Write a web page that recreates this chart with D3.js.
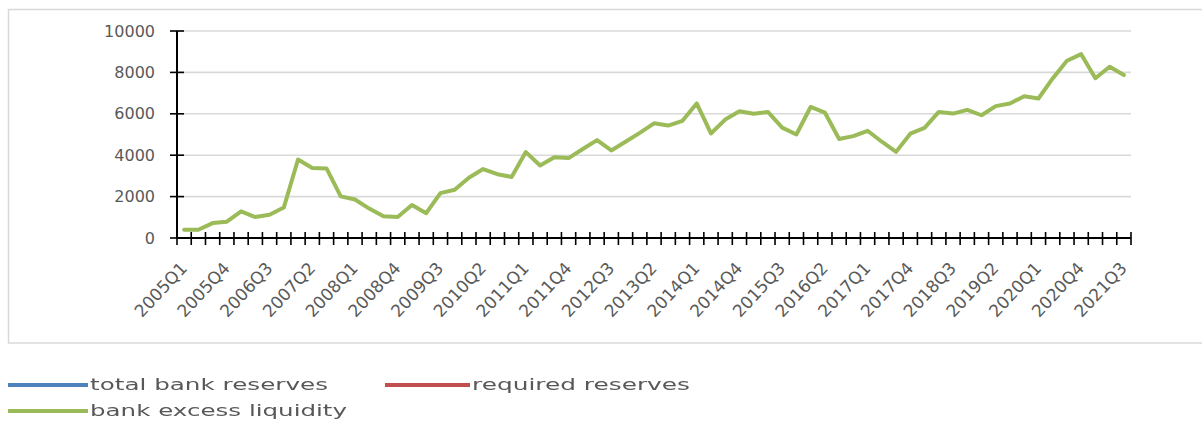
<!DOCTYPE html>
<html>
<head>
<meta charset="utf-8">
<script src="https://cdn.jsdelivr.net/npm/d3@7/dist/d3.min.js"></script>
<style>
  html, body { margin: 0; padding: 0; background: #ffffff; }
  svg { display: block; }
  text { font-family: "DejaVu Sans", sans-serif; fill: #595959; }
</style>
</head>
<body>
<svg id="chart" width="1202" height="421"></svg>
<script>
// Quarterly observations, 2005Q1 – 2021Q3
const quarters = [
  "2005Q1","2005Q2","2005Q3","2005Q4","2006Q1","2006Q2","2006Q3","2006Q4",
  "2007Q1","2007Q2","2007Q3","2007Q4","2008Q1","2008Q2","2008Q3","2008Q4",
  "2009Q1","2009Q2","2009Q3","2009Q4","2010Q1","2010Q2","2010Q3","2010Q4",
  "2011Q1","2011Q2","2011Q3","2011Q4","2012Q1","2012Q2","2012Q3","2012Q4",
  "2013Q1","2013Q2","2013Q3","2013Q4","2014Q1","2014Q2","2014Q3","2014Q4",
  "2015Q1","2015Q2","2015Q3","2015Q4","2016Q1","2016Q2","2016Q3","2016Q4",
  "2017Q1","2017Q2","2017Q3","2017Q4","2018Q1","2018Q2","2018Q3","2018Q4",
  "2019Q1","2019Q2","2019Q3","2019Q4","2020Q1","2020Q2","2020Q3","2020Q4",
  "2021Q1","2021Q2","2021Q3"
];

// Bank excess liquidity
const excessLiquidity = [
  400, 400, 720, 790, 1290, 1010, 1120, 1470,
  3790, 3380, 3360, 2010, 1860, 1420, 1050, 1010,
  1590, 1200, 2170, 2330, 2910, 3330, 3080, 2950,
  4150, 3500, 3900, 3860, 4300, 4730, 4230, 4650,
  5080, 5540, 5430, 5660, 6500, 5050, 5720, 6120,
  6000, 6090, 5330, 5000, 6330, 6060, 4780, 4920,
  5180, 4650, 4160, 5040, 5320, 6090, 6010, 6190,
  5930, 6370, 6500, 6850, 6740, 7710, 8560, 8880,
  7720, 8270, 7870
];

const yTicks = [0, 2000, 4000, 6000, 8000, 10000];
const xTickLabels = quarters.filter((q, i) => i % 3 === 0);

const legendNames = ["total bank reserves", "required reserves", "bank excess liquidity"];
const legendColors = ["#4f81bd", "#c0504d", "#9bbb59"];

const svg = d3.select("#chart");

const plot = { left: 177, right: 1131, top: 31, bottom: 238 };

const x = d3.scaleBand().domain(quarters).range([plot.left, plot.right]).padding(0);
const y = d3.scaleLinear().domain([0, 10000]).range([plot.bottom, plot.top]);
const cx = q => x(q) + x.bandwidth() / 2;

// Outer chart frame
svg.append("rect")
  .attr("x", 8.5).attr("y", 9.5)
  .attr("width", 1200).attr("height", 333.5)
  .attr("fill", "none")
  .attr("stroke", "#d9d9d9")
  .attr("stroke-width", 1.5);

// Horizontal gridlines
svg.append("g").selectAll("line")
  .data(yTicks.filter(v => v > 0))
  .join("line")
  .attr("x1", plot.left).attr("x2", plot.right)
  .attr("y1", d => y(d)).attr("y2", d => y(d))
  .attr("stroke", "#d9d9d9")
  .attr("stroke-width", 1.6);

// Y axis labels
const yAxis = d3.axisLeft(y).tickValues(yTicks).tickSize(0).tickPadding(22).tickFormat(d3.format("d"));
const gy = svg.append("g").attr("transform", `translate(${plot.left},0)`).call(yAxis);
gy.select(".domain").remove();
gy.selectAll("text").style("font-size", "16px").attr("fill", "#595959").style("font-family", "DejaVu Sans, sans-serif");

// Y axis line and cross ticks
svg.append("line")
  .attr("x1", plot.left).attr("x2", plot.left)
  .attr("y1", y(10000)).attr("y2", y(0))
  .attr("stroke", "#000").attr("stroke-width", 2);
svg.append("g").selectAll("line")
  .data(yTicks)
  .join("line")
  .attr("x1", plot.left - 7).attr("x2", plot.left + 7)
  .attr("y1", d => y(d)).attr("y2", d => y(d))
  .attr("stroke", "#000").attr("stroke-width", 1.6);

// X axis line and cross ticks at category boundaries
svg.append("line")
  .attr("x1", plot.left).attr("x2", plot.right)
  .attr("y1", y(0)).attr("y2", y(0))
  .attr("stroke", "#000").attr("stroke-width", 2);
const boundaries = quarters.map(q => x(q)).concat([x.range()[1]]);
svg.append("g").selectAll("line")
  .data(boundaries)
  .join("line")
  .attr("x1", d => d).attr("x2", d => d)
  .attr("y1", y(0) - 6).attr("y2", y(0) + 7)
  .attr("stroke", "#000").attr("stroke-width", 1.6);

// Rotated category labels
svg.append("g").selectAll("text")
  .data(xTickLabels)
  .join("text")
  .attr("transform", d => `translate(${cx(d) + 4},${y(0) + 31}) rotate(-47)`)
  .attr("text-anchor", "end")
  .style("font-size", "17px")
  .text(d => d);

// Excess liquidity line
const line = d3.line()
  .x((d, i) => cx(quarters[i]))
  .y(d => y(d));
svg.append("path")
  .datum(excessLiquidity)
  .attr("d", line)
  .attr("fill", "none")
  .attr("stroke", "#9bbb59")
  .attr("stroke-width", 4)
  .attr("stroke-linejoin", "round")
  .attr("stroke-linecap", "round");

// Legend
const defs = svg.append("defs");
defs.append("filter").attr("id", "soft")
  .append("feGaussianBlur").attr("stdDeviation", 0.6);

const legendItems = [
  { x: 8, y: 385, textX: 90, len: 238 },
  { x: 385, y: 385, textX: 472, len: 218 },
  { x: 8, y: 411, textX: 90, len: 257 }
];
const lg = svg.append("g").attr("filter", "url(#soft)");
legendItems.forEach((it, i) => {
  lg.append("line")
    .attr("x1", it.x).attr("x2", it.textX - 2)
    .attr("y1", it.y).attr("y2", it.y)
    .attr("stroke", legendColors[i])
    .attr("stroke-width", 4);
  lg.append("text")
    .attr("x", it.textX).attr("y", it.y)
    .attr("dominant-baseline", "middle")
    .attr("textLength", it.len)
    .attr("lengthAdjust", "spacingAndGlyphs")
    .style("font-size", "15px")
    .text(legendNames[i]);
});
</script>
</body>
</html>
